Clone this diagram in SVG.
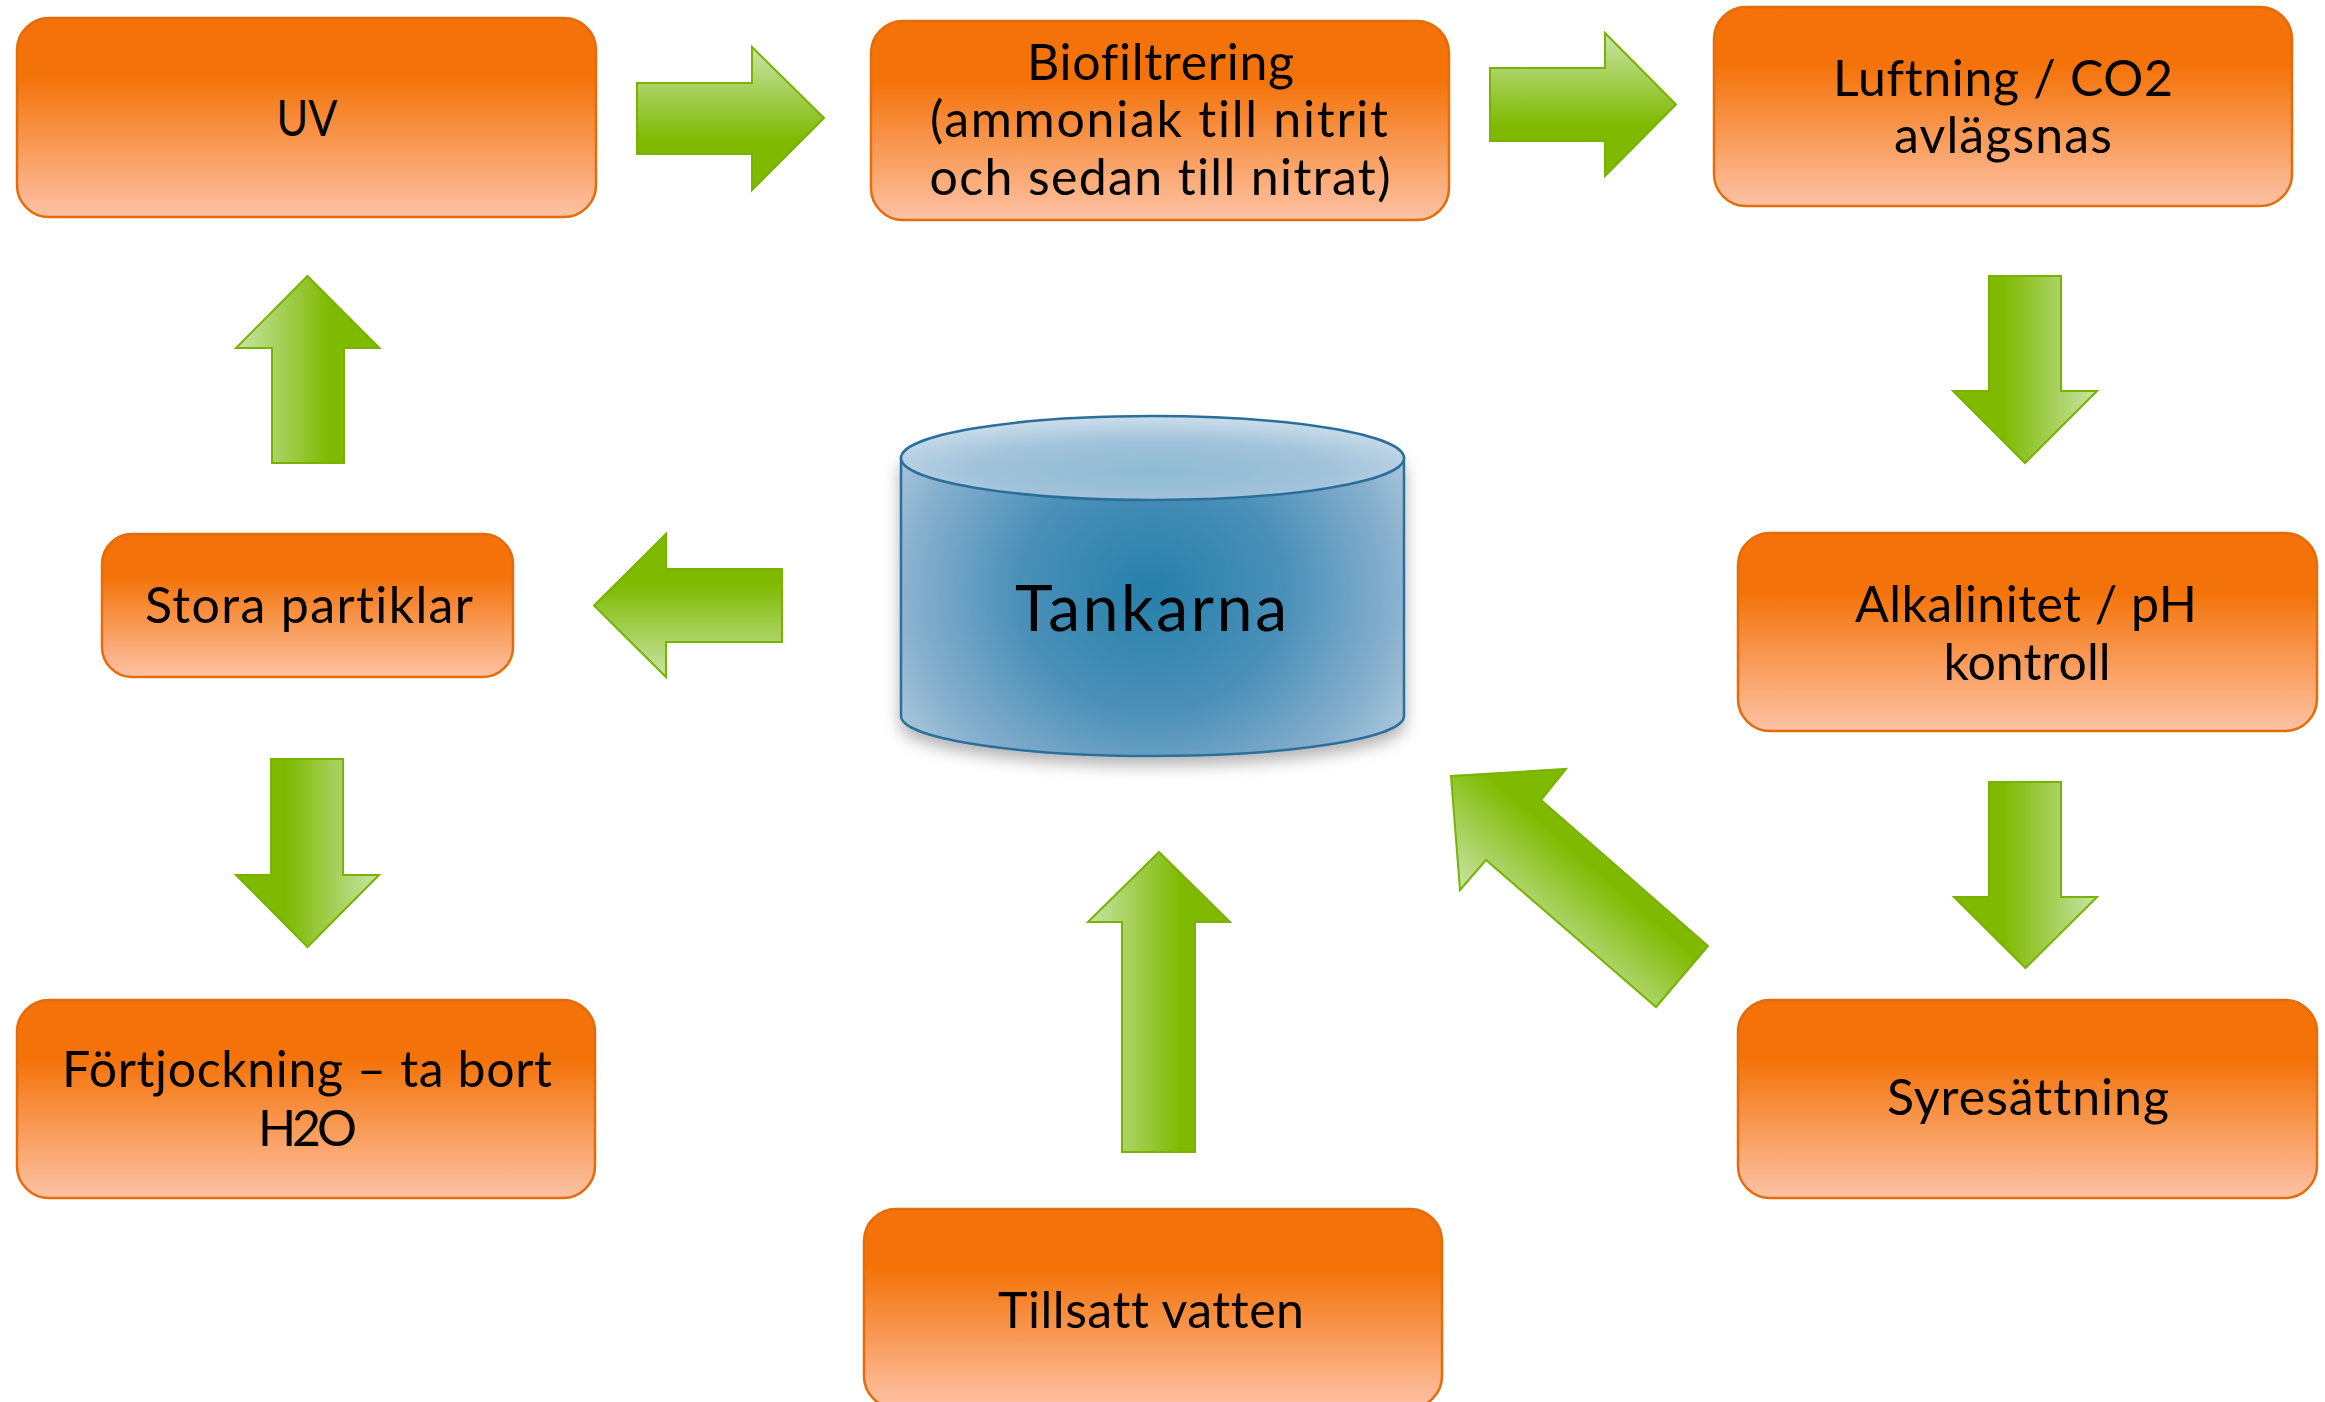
<svg xmlns="http://www.w3.org/2000/svg" width="2325" height="1402" viewBox="0 0 2325 1402">
<defs>
<linearGradient id="gBox" x1="0" y1="0" x2="0" y2="1">
<stop offset="0" stop-color="#F47209"/>
<stop offset="0.3" stop-color="#F47309"/>
<stop offset="1" stop-color="#FDC2A5"/>
</linearGradient>
<linearGradient id="gR" x1="0" y1="0" x2="0" y2="1">
<stop offset="0" stop-color="#C8E4A8"/>
<stop offset="0.65" stop-color="#7FBA00"/>
<stop offset="1" stop-color="#7FBA00"/>
</linearGradient>
<linearGradient id="gL" x1="0" y1="1" x2="0" y2="0">
<stop offset="0" stop-color="#C8E4A8"/>
<stop offset="0.65" stop-color="#7FBA00"/>
<stop offset="1" stop-color="#7FBA00"/>
</linearGradient>
<linearGradient id="gU" x1="0" y1="0" x2="1" y2="0">
<stop offset="0" stop-color="#C8E4A8"/>
<stop offset="0.65" stop-color="#7FBA00"/>
<stop offset="1" stop-color="#7FBA00"/>
</linearGradient>
<linearGradient id="gD" x1="1" y1="0" x2="0" y2="0">
<stop offset="0" stop-color="#C8E4A8"/>
<stop offset="0.65" stop-color="#7FBA00"/>
<stop offset="1" stop-color="#7FBA00"/>
</linearGradient>
<linearGradient id="gDiag" gradientUnits="userSpaceOnUse" x1="1460" y1="890" x2="1566" y2="769">
<stop offset="0" stop-color="#C8E4A8"/>
<stop offset="0.65" stop-color="#7FBA00"/>
<stop offset="1" stop-color="#7FBA00"/>
</linearGradient>
<radialGradient id="gBody" gradientUnits="userSpaceOnUse" cx="1152" cy="590" r="300" gradientTransform="translate(1152 590) scale(1 0.9) translate(-1152 -590)">
<stop offset="0" stop-color="#2580AA"/>
<stop offset="0.45" stop-color="#4B90B9"/>
<stop offset="0.8" stop-color="#86AFCD"/>
<stop offset="1" stop-color="#AECADE"/>
</radialGradient>
<radialGradient id="gTop" cx="0.5" cy="0.65" r="0.6">
<stop offset="0" stop-color="#8EBAD4"/>
<stop offset="0.6" stop-color="#A2C3DA"/>
<stop offset="1" stop-color="#C6DAE8"/>
</radialGradient>
<filter id="shadow" x="-10%" y="-10%" width="120%" height="130%">
<feDropShadow dx="0" dy="8" stdDeviation="8" flood-color="#000" flood-opacity="0.3"/>
</filter>
</defs>
<style>
.box{fill:url(#gBox);stroke:#E46C0A;stroke-width:2.5;}
.lbl{font-family:Lato,"Liberation Sans",sans-serif;font-size:50px;fill:#000;text-anchor:middle;font-variant-ligatures:none;font-feature-settings:"liga" 0,"dlig" 0,"clig" 0;}
.arr{stroke:#77B300;stroke-width:2;stroke-linejoin:miter;}
.cyl{stroke:#2A6F9A;stroke-width:2.5;}
</style>
<rect width="2325" height="1402" fill="#FFFFFF"/>

<g id="connectors">
<polygon class="arr" fill="url(#gR)" points="637,83 752,83 752,47 824,118 752,190 752,154 637,154"/>
<polygon class="arr" fill="url(#gR)" points="1490,68 1605,68 1605,33 1676,104.5 1605,176 1605,141 1490,141"/>
<polygon class="arr" fill="url(#gD)" points="1989,276 2061,276 2061,391 2097,391 2025,463 1953,391 1989,391"/>
<polygon class="arr" fill="url(#gD)" points="1989,782 2061,782 2061,897 2097,897 2025.5,968 1954,897 1989,897"/>
<polygon class="arr" fill="url(#gDiag)" points="1708,946 1541,800 1566,769 1451,776 1460,890 1486,860 1656,1007"/>
<polygon class="arr" fill="url(#gU)" points="1122,1152 1122,922 1088,922 1159,852 1230,922 1195,922 1195,1152"/>
<polygon class="arr" fill="url(#gL)" points="782,569 666,569 666,534 594,605.5 666,677 666,642 782,642"/>
<polygon class="arr" fill="url(#gU)" points="272,463 272,348 236,348 307.5,276 379.5,348 344,348 344,463"/>
<polygon class="arr" fill="url(#gD)" points="271,759 343,759 343,875 379,875 307.5,947 236,875 271,875"/>
</g>

<g id="uv">
<rect class="box" x="17" y="18" width="579" height="199" rx="32" ry="32"/>
<text class="lbl" x="307" y="136" textLength="61" lengthAdjust="spacingAndGlyphs">UV</text>
</g>

<g id="biofiltrering">
<rect class="box" x="871" y="21" width="578" height="199" rx="32" ry="32"/>
<text class="lbl" x="1160.5" y="80" textLength="267" lengthAdjust="spacing">Biofiltrering</text>
<text class="lbl" x="1159" y="137" textLength="458" lengthAdjust="spacing">(ammoniak till nitrit</text>
<text class="lbl" x="1160" y="195" textLength="461" lengthAdjust="spacing">och sedan till nitrat)</text>
</g>

<g id="luftning">
<rect class="box" x="1714" y="7" width="578" height="199" rx="32" ry="32"/>
<text class="lbl" x="2003" y="96" textLength="340" lengthAdjust="spacing">Luftning / CO2</text>
<text class="lbl" x="2003" y="153" textLength="218" lengthAdjust="spacing">avlägsnas</text>
</g>

<g id="alkalinitet">
<rect class="box" x="1738" y="533" width="579" height="198" rx="32" ry="32"/>
<text class="lbl" x="2026" y="622" textLength="342" lengthAdjust="spacing">Alkalinitet / pH</text>
<text class="lbl" x="2027" y="680" textLength="167" lengthAdjust="spacing">kontroll</text>
</g>

<g id="syresattning">
<rect class="box" x="1738" y="1000" width="579" height="198" rx="32" ry="32"/>
<text class="lbl" x="2028" y="1115" textLength="282" lengthAdjust="spacing">Syresättning</text>
</g>

<g id="stora-partiklar">
<rect class="box" x="102" y="534" width="411" height="143" rx="30" ry="30"/>
<text class="lbl" x="309" y="623" textLength="328" lengthAdjust="spacing">Stora partiklar</text>
</g>

<g id="fortjockning">
<rect class="box" x="17" y="1000" width="578" height="198" rx="32" ry="32"/>
<text class="lbl" x="307" y="1087" textLength="490" lengthAdjust="spacing">Förtjockning – ta bort</text>
<text class="lbl" x="307.5" y="1146" textLength="99" lengthAdjust="spacing">H2O</text>
</g>

<g id="tillsatt-vatten">
<rect class="box" x="864" y="1209" width="578" height="199" rx="32" ry="32"/>
<text class="lbl" x="1151" y="1328" textLength="306" lengthAdjust="spacing">Tillsatt vatten</text>
</g>

<g id="tankarna">
<path class="cyl" fill="url(#gBody)" filter="url(#shadow)" d="M901,458 V716 A251.5,40 0 0 0 1404,716 V458 Z"/>
<ellipse class="cyl" fill="url(#gTop)" cx="1152.5" cy="458" rx="251.5" ry="42"/>
<text x="1151" y="631" font-family="Lato,'Liberation Sans',sans-serif" font-size="64" text-anchor="middle" textLength="272" lengthAdjust="spacing" fill="#000" style="font-variant-ligatures:none">Tankarna</text>
</g>
</svg>
